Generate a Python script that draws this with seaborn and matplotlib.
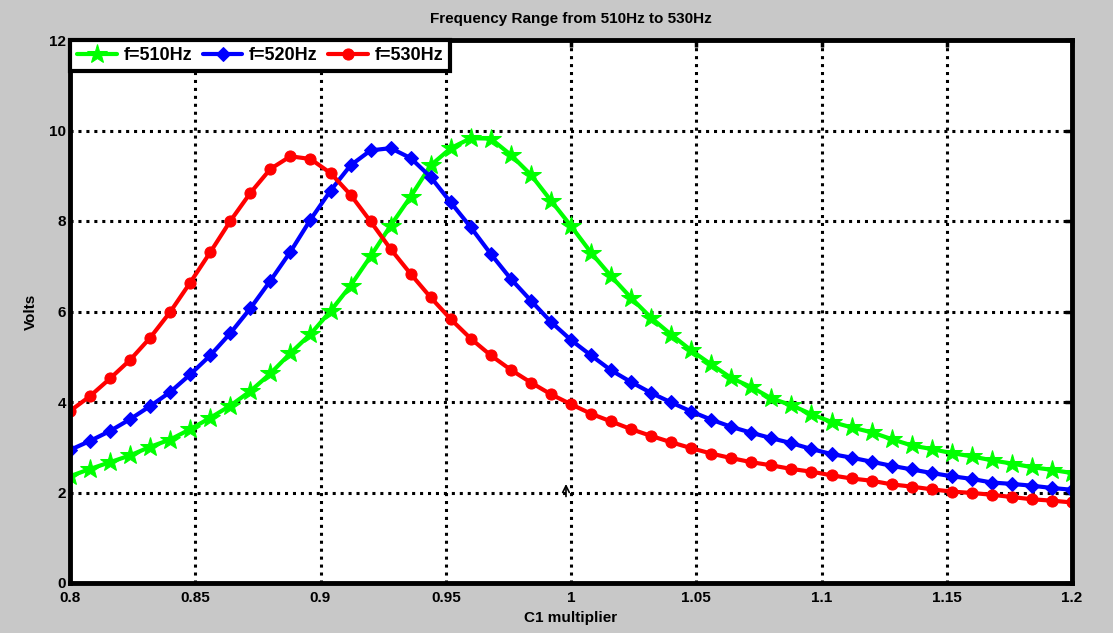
import matplotlib
matplotlib.use("Agg")
import matplotlib.pyplot as plt
import seaborn as sns
import numpy as np
import pandas as pd

# C1 multiplier values (51 samples from 0.8 to 1.2)
c1_multiplier = [round(0.8 + 0.008 * i, 3) for i in range(51)]

volts_510 = [2.36, 2.52, 2.67, 2.82, 3.01, 3.17, 3.40, 3.65, 3.92, 4.24,
             4.63, 5.08, 5.50, 6.01, 6.57, 7.22, 7.90, 8.54, 9.23, 9.61,
             9.83, 9.82, 9.46, 9.02, 8.45, 7.89, 7.30, 6.78, 6.30, 5.86,
             5.49, 5.14, 4.83, 4.53, 4.33, 4.08, 3.93, 3.73, 3.56, 3.44,
             3.33, 3.18, 3.04, 2.96, 2.87, 2.80, 2.71, 2.64, 2.56, 2.50, 2.43]

volts_520 = [2.94, 3.14, 3.36, 3.62, 3.91, 4.22, 4.61, 5.03, 5.52, 6.07,
             6.68, 7.32, 8.03, 8.67, 9.23, 9.56, 9.61, 9.39, 8.97, 8.41,
             7.86, 7.27, 6.72, 6.24, 5.77, 5.37, 5.03, 4.70, 4.44, 4.20,
             3.99, 3.79, 3.61, 3.45, 3.32, 3.20, 3.09, 2.96, 2.85, 2.77,
             2.68, 2.59, 2.51, 2.43, 2.36, 2.30, 2.22, 2.19, 2.15, 2.10, 2.06]

volts_530 = [3.80, 4.13, 4.52, 4.93, 5.42, 5.99, 6.64, 7.31, 8.00, 8.62,
             9.15, 9.43, 9.37, 9.06, 8.58, 7.99, 7.38, 6.83, 6.31, 5.83,
             5.40, 5.03, 4.71, 4.43, 4.17, 3.95, 3.74, 3.57, 3.40, 3.25,
             3.11, 2.98, 2.86, 2.76, 2.67, 2.60, 2.52, 2.46, 2.38, 2.31,
             2.26, 2.18, 2.13, 2.07, 2.02, 1.99, 1.95, 1.90, 1.85, 1.82, 1.78]

series_labels = ["f=510Hz", "f=520Hz", "f=530Hz"]
x_ticks = [0.8, 0.85, 0.9, 0.95, 1, 1.05, 1.1, 1.15, 1.2]
x_tick_labels = ["0.8", "0.85", "0.9", "0.95", "1", "1.05", "1.1", "1.15", "1.2"]
y_ticks = [0, 2, 4, 6, 8, 10, 12]

sns.set_theme(style="white")
plt.rcParams['font.family'] = ['Liberation Sans', 'DejaVu Sans']
plt.rcParams['font.weight'] = 'bold'
plt.rcParams['text.color'] = 'black'
plt.rcParams['axes.labelcolor'] = 'black'

fig = plt.figure(figsize=(11.13, 6.33), dpi=100, facecolor="#c8c8c8")
ax = fig.add_axes([70 / 1113, 1 - 583 / 633, (1072 - 70) / 1113, (583 - 40) / 633])
ax.set_facecolor("white")

styles = [
    dict(color="#00ff00", marker="*", markersize=15),
    dict(color="#0000ff", marker="D", markersize=7),
    dict(color="#ff0000", marker="o", markersize=8),
]
for vals, lab, st in zip([volts_510, volts_520, volts_530], series_labels, styles):
    df = pd.DataFrame({"x": c1_multiplier, "y": vals})
    sns.lineplot(data=df, x="x", y="y", ax=ax, color=st["color"], marker=st["marker"],
                 markersize=st["markersize"], markeredgecolor=st["color"],
                 linewidth=3.0, label=lab, estimator=None, sort=False)

ax.set_xlim(0.8, 1.2)
ax.set_ylim(0, 12)
ax.set_xticks(x_ticks)
ax.set_xticklabels(x_tick_labels)
ax.set_yticks(y_ticks)
ax.grid(True, color="black", linestyle=(0, (1, 1.6)), linewidth=2.2)
ax.tick_params(direction="in", length=5, width=2.5, top=True, right=True,
               labelsize=11, colors="black")
ax.tick_params(axis="x", pad=6)
ax.tick_params(axis="y", pad=3)
for lab in ax.get_xticklabels() + ax.get_yticklabels():
    lab.set_fontweight("bold")
for sp in ax.spines.values():
    sp.set_visible(True)
    sp.set_color("black")
    sp.set_linewidth(3.5)

ax.set_xlabel("C1 multiplier", fontsize=11, fontweight="bold", labelpad=4, color="black")
ax.set_ylabel("Volts", fontsize=11, fontweight="bold", labelpad=8, color="black")
ax.set_title("Frequency Range from 510Hz to 530Hz", fontsize=11, fontweight="bold",
             pad=12, color="black")

ax.annotate("", xy=(0.998, 2.25), xytext=(0.998, 1.85),
            arrowprops=dict(arrowstyle="->", color="black", lw=1.2))

leg = ax.legend(loc="upper left", ncol=3, frameon=True, fancybox=False,
                borderaxespad=0.0, handlelength=2.2, handletextpad=0.35,
                columnspacing=0.6, borderpad=0.4,
                prop=dict(weight="bold", size=13))
leg.get_frame().set_edgecolor("black")
leg.get_frame().set_linewidth(3)
leg.get_frame().set_alpha(1)
for t in leg.get_texts():
    t.set_color("black")

fig.savefig("out.png", dpi=100, facecolor=fig.get_facecolor())
